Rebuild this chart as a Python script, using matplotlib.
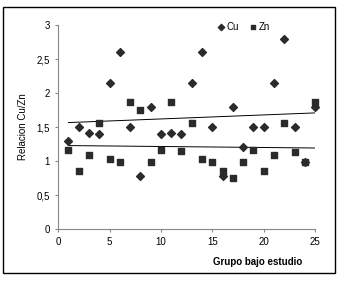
import matplotlib
matplotlib.use("Agg")
import matplotlib.pyplot as plt
from matplotlib.patches import Rectangle
import numpy as np

grupo = list(range(1, 26))
cu = [1.30, 1.50, 1.41, 1.40, 2.15, 2.60, 1.50, 0.78, 1.80, 1.40,
      1.41, 1.40, 2.15, 2.60, 1.50, 0.78, 1.80, 1.20, 1.50, 1.50,
      2.15, 2.80, 1.50, 0.98, 1.80]
zn = [1.16, 0.85, 1.09, 1.56, 1.03, 0.98, 1.87, 1.75, 0.98, 1.16,
      1.87, 1.14, 1.56, 1.03, 0.98, 0.85, 0.75, 0.98, 1.16, 0.85,
      1.09, 1.56, 1.13, 0.98, 1.87]
y_ticks = [0, 0.5, 1, 1.5, 2, 2.5, 3]
y_labels = ["0", "0,5", "1", "1,5", "2", "2,5", "3"]
x_ticks = [0, 5, 10, 15, 20, 25]

plt.rcParams["font.family"] = ["Liberation Sans", "DejaVu Sans"]

fig = plt.figure(figsize=(3.44, 2.81), dpi=100)
ax = fig.add_axes([0.169, 0.185, 0.747, 0.726])

mark_color = "#2b2b2b"
x = np.array(grupo, dtype=float)
ax.scatter(x, cu, marker="D", s=16, color=mark_color, label="Cu", zorder=3,
           clip_on=False)
ax.scatter(x, zn, marker="s", s=16, color=mark_color, label="Zn", zorder=3,
           clip_on=False)

# linear trendlines
for series in (cu, zn):
    slope, intercept = np.polyfit(x, series, 1)
    ax.plot([1, 25], [slope * 1 + intercept, slope * 25 + intercept],
            color="black", lw=0.7, zorder=2)

ax.set_xlim(0, 25)
ax.set_ylim(0, 3)
ax.set_xticks(x_ticks)
ax.set_yticks(y_ticks)
ax.set_yticklabels(y_labels)
ax.tick_params(labelsize=7, length=2.5, color="#888888", width=0.8)
for side in ("top", "right"):
    ax.spines[side].set_visible(False)
for side in ("left", "bottom"):
    ax.spines[side].set_color("#888888")
    ax.spines[side].set_linewidth(0.8)

ax.set_ylabel("Relacion Cu/Zn", fontsize=7, labelpad=6)
fig.text(0.75, 0.068, "Grupo bajo estudio", fontsize=7, fontweight="bold",
         ha="center", va="center")

ax.legend(loc="upper right", bbox_to_anchor=(0.86, 1.06), ncol=2, frameon=False,
          fontsize=7, handletextpad=0.1, columnspacing=1.0, markerscale=0.8,
          handlelength=1.0)

fig.patches.append(Rectangle((0.01, 0.03), 0.965, 0.945, transform=fig.transFigure,
                             fill=False, edgecolor="black", lw=1.0))

fig.savefig("out.png", dpi=100)
